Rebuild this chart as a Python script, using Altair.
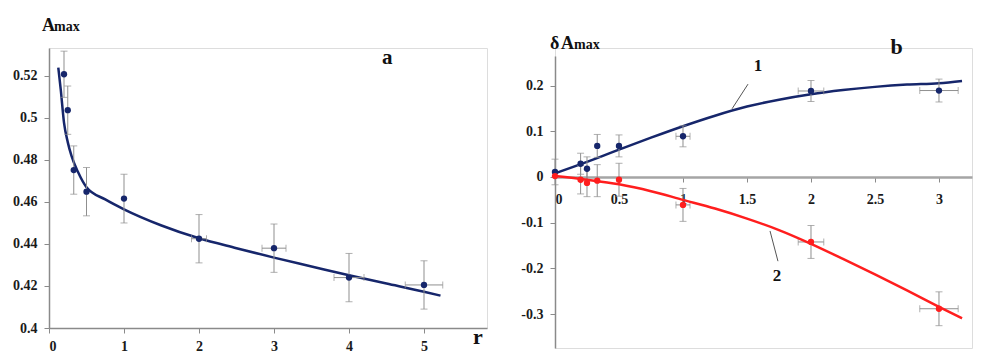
import altair as alt
import pandas as pd

# ---------------- Panel a data ----------------
ra = [0.2, 0.25, 0.33, 0.5, 1, 2, 3, 4, 5]
Aa = [0.5208, 0.5037, 0.4752, 0.4649, 0.4616, 0.4425, 0.438, 0.424, 0.4205]
Aa_err = [0.011, 0.0115, 0.0115, 0.0115, 0.0116, 0.0115, 0.0115, 0.0115, 0.0115]
ra_err = [0, 0, 0, 0, 0, 0.1, 0.16, 0.2, 0.25]

fit_a_r = [0.124, 0.156, 0.2, 0.25, 0.3, 0.39, 0.5, 0.75, 1.0, 1.5,
           2.0, 2.5, 3.0, 3.5, 4.0, 4.5, 5.0, 5.22]
fit_a_A = [0.524, 0.5137, 0.4978, 0.4885, 0.4819, 0.474, 0.467, 0.4612, 0.4565, 0.4488,
           0.4427, 0.438, 0.4335, 0.4293, 0.4251, 0.4212, 0.4173, 0.4154]

a_xticks = [0, 1, 2, 3, 4, 5]
a_yticks = [0.4, 0.42, 0.44, 0.46, 0.48, 0.5, 0.52]

# ---------------- Panel b data ----------------
rb = [0, 0.2, 0.25, 0.33, 0.5, 1, 2, 3]
d1 = [0.011, 0.029, 0.018, 0.068, 0.068, 0.089, 0.188, 0.189]
d1_err = [0.028, 0.023, 0.026, 0.025, 0.024, 0.023, 0.023, 0.025]
d2 = [0.002, -0.006, -0.013, -0.008, -0.006, -0.061, -0.142, -0.288]
d2_err = [0, 0.031, 0.03, 0.035, 0.036, 0.036, 0.036, 0.037]
rb_err = [0, 0, 0, 0, 0, 0.055, 0.1, 0.15]

fit1_x = [0, 0.25, 0.5, 0.75, 1.0, 1.25, 1.5, 1.75, 2.0, 2.25, 2.5, 2.75, 3.0, 3.18]
fit1_y = [0.008, 0.033, 0.06, 0.086, 0.111, 0.134, 0.154, 0.169, 0.181, 0.19, 0.197, 0.202, 0.205, 0.21]
fit2_x = [0, 0.25, 0.5, 0.75, 1.0, 1.25, 1.5, 1.75, 2.0, 2.25, 2.5, 2.75, 3.0, 3.18]
fit2_y = [0.002, -0.006, -0.016, -0.031, -0.05, -0.069, -0.091, -0.116, -0.146, -0.179,
          -0.213, -0.248, -0.284, -0.309]

b_xticks = [0, 0.5, 1, 1.5, 2, 2.5, 3]
b_yticks = [-0.3, -0.2, -0.1, 0, 0.1, 0.2]

# curve labels "1", "2" with leader lines (data coords)
lab_text = ["1", "2"]
lab_x = [1.586, 1.734]
lab_y = [0.243, -0.216]
lead_x1 = [1.508, 1.742]
lead_y1 = [0.203, -0.184]
lead_x2 = [1.383, 1.68]
lead_y2 = [0.149, -0.118]

NAVY = "#16266b"
RED = "#ff1e1e"
GREY = "#8f8f8f"
FONT = "Liberation Serif"


def err_layers(df, xf, yf, yerr, xerr, xs, ys):
    vdf = df[df[yerr] > 0].copy()
    vdf["lo"] = vdf[yf] - vdf[yerr]
    vdf["hi"] = vdf[yf] + vdf[yerr]
    vbar = alt.Chart(vdf).mark_rule(color=GREY, strokeWidth=1).encode(
        x=alt.X(xf, type="quantitative", scale=xs),
        y=alt.Y("lo:Q", scale=ys), y2="hi:Q")
    vcap = pd.concat([vdf[[xf]].assign(v=vdf["lo"]), vdf[[xf]].assign(v=vdf["hi"])])
    vcaps = alt.Chart(vcap).mark_tick(color=GREY, orient="horizontal", size=7, thickness=1).encode(
        x=alt.X(xf, type="quantitative", scale=xs), y=alt.Y("v:Q", scale=ys))
    hdf = df[df[xerr] > 0].copy()
    hdf["lo"] = hdf[xf] - hdf[xerr]
    hdf["hi"] = hdf[xf] + hdf[xerr]
    hbar = alt.Chart(hdf).mark_rule(color=GREY, strokeWidth=1).encode(
        x=alt.X("lo:Q", scale=xs), x2="hi:Q",
        y=alt.Y(yf, type="quantitative", scale=ys))
    hcap = pd.concat([hdf[[yf]].assign(v=hdf["lo"]), hdf[[yf]].assign(v=hdf["hi"])])
    hcaps = alt.Chart(hcap).mark_tick(color=GREY, orient="vertical", size=7, thickness=1).encode(
        x=alt.X("v:Q", scale=xs), y=alt.Y(yf, type="quantitative", scale=ys))
    return [vbar, vcaps, hbar, hcaps]


def label_text(txt, x, y, size):
    return alt.Chart(pd.DataFrame({"t": [txt]})).mark_text(
        font=FONT, fontWeight="bold", fontSize=size, align="left", baseline="alphabetic",
        color="#111").encode(x=alt.value(x), y=alt.value(y), text="t:N")


# ---------------- Panel a ----------------
xs_a = alt.Scale(domain=[0, 5.84], nice=False, zero=False)
ys_a = alt.Scale(domain=[0.4, 0.5333], nice=False, zero=False)

dfa = pd.DataFrame({"r": ra, "A": Aa, "Aerr": Aa_err, "rerr": ra_err})
dfa_fit = pd.DataFrame({"r": fit_a_r, "A": fit_a_A})

ax_a_x = alt.Axis(values=a_xticks, format="d", labelPadding=6, title=None)
ax_a_y = alt.Axis(values=a_yticks, format=".2~f", labelPadding=7, title=None)

errs_a = err_layers(dfa, "r", "A", "Aerr", "rerr", xs_a, ys_a)

base_a = alt.Chart(dfa_fit).mark_line(color=NAVY, strokeWidth=2.5, interpolate="monotone").encode(
    x=alt.X("r:Q", scale=xs_a, axis=ax_a_x),
    y=alt.Y("A:Q", scale=ys_a, axis=ax_a_y),
)
pts_a = alt.Chart(dfa).mark_circle(color=NAVY, size=40, opacity=1).encode(
    x=alt.X("r:Q", scale=xs_a, axis=ax_a_x), y=alt.Y("A:Q", scale=ys_a, axis=ax_a_y))
a_letter = alt.Chart(pd.DataFrame({"t": ["a"], "x": [4.51], "y": [0.5286]})).mark_text(
    font=FONT, fontWeight="bold", fontSize=21, align="center", baseline="middle", color="#111").encode(
    x=alt.X("x:Q", scale=xs_a), y=alt.Y("y:Q", scale=ys_a), text="t:N")

panel_a = alt.layer(
    base_a, *errs_a, pts_a, a_letter,
    label_text("A", -7, -17, 18), label_text("max", 5, -17, 14),
    label_text("r", 424, 296, 22),
).properties(width=438, height=280)

# ---------------- Panel b ----------------
xs_b = alt.Scale(domain=[0, 3.258], nice=False, zero=False)
ys_b = alt.Scale(domain=[-0.3738, 0.2645], nice=False, zero=False, range=[300, 8])

dfb1 = pd.DataFrame({"r": rb, "d": d1, "derr": d1_err, "rerr": rb_err})
dfb2 = pd.DataFrame({"r": rb, "d": d2, "derr": d2_err, "rerr": rb_err})
fit1 = pd.DataFrame({"r": fit1_x, "d": fit1_y})
fit2 = pd.DataFrame({"r": fit2_x, "d": fit2_y})

ax_b_x = alt.Axis(values=b_xticks, format="~g", labelPadding=10, offset=-171, title=None,
                  domainWidth=2.5, domainColor="#a5a5a5")
ax_b_y = alt.Axis(values=b_yticks, labelPadding=7, title=None,
                  labelExpr="datum.value == 0 ? '0' : '' + datum.value")

line1 = alt.Chart(fit1).mark_line(color=NAVY, strokeWidth=2.5, interpolate="monotone").encode(
    x=alt.X("r:Q", scale=xs_b, axis=ax_b_x),
    y=alt.Y("d:Q", scale=ys_b, axis=ax_b_y),
)
line2 = alt.Chart(fit2).mark_line(color=RED, strokeWidth=2.5, interpolate="monotone").encode(
    x=alt.X("r:Q", scale=xs_b), y=alt.Y("d:Q", scale=ys_b))
pts1 = alt.Chart(dfb1).mark_circle(color=NAVY, size=40, opacity=1).encode(
    x=alt.X("r:Q", scale=xs_b), y=alt.Y("d:Q", scale=ys_b))
pts2 = alt.Chart(dfb2).mark_circle(color=RED, size=40, opacity=1).encode(
    x=alt.X("r:Q", scale=xs_b), y=alt.Y("d:Q", scale=ys_b))

leads = alt.Chart(pd.DataFrame({"x1": lead_x1, "y1": lead_y1, "x2": lead_x2, "y2": lead_y2})).mark_rule(
    color="#555", strokeWidth=1).encode(
    x=alt.X("x1:Q", scale=xs_b), y=alt.Y("y1:Q", scale=ys_b), x2="x2:Q", y2="y2:Q")
labs = alt.Chart(pd.DataFrame({"t": lab_text, "x": lab_x, "y": lab_y})).mark_text(
    font=FONT, fontWeight="bold", fontSize=17, align="center", baseline="middle", color="#111").encode(
    x=alt.X("x:Q", scale=xs_b), y=alt.Y("y:Q", scale=ys_b), text="t:N")
b_letter = alt.Chart(pd.DataFrame({"t": ["b"], "x": [2.67], "y": [0.284]})).mark_text(
    font=FONT, fontWeight="bold", fontSize=22, align="center", baseline="middle", color="#111").encode(
    x=alt.X("x:Q", scale=xs_b), y=alt.Y("y:Q", scale=ys_b), text="t:N")

panel_b = alt.layer(
    line1,
    *err_layers(dfb1, "r", "d", "derr", "rerr", xs_b, ys_b),
    *err_layers(dfb2, "r", "d", "derr", "rerr", xs_b, ys_b),
    line2, pts1, pts2, leads, labs, b_letter,
    label_text("δ", -5, 1, 18), label_text("A", 6, 1, 18), label_text("max", 19, 1, 14),
).properties(width=417, height=300)

chart = alt.hconcat(panel_a, panel_b, spacing=32).properties(
    padding={"left": 4, "top": 8, "right": 0, "bottom": 0}
).configure_view(stroke=None).configure(background="white").configure_axis(
    grid=False, domainColor="#8a8a8a", tickColor="#8a8a8a", domainWidth=1.5, tickWidth=1,
    tickSize=5, labelFont=FONT, labelFontSize=14, labelFontWeight="bold", labelColor="#1a1a1a"
)

chart.save("out.html", embed_options={"renderer": "svg", "actions": False})
